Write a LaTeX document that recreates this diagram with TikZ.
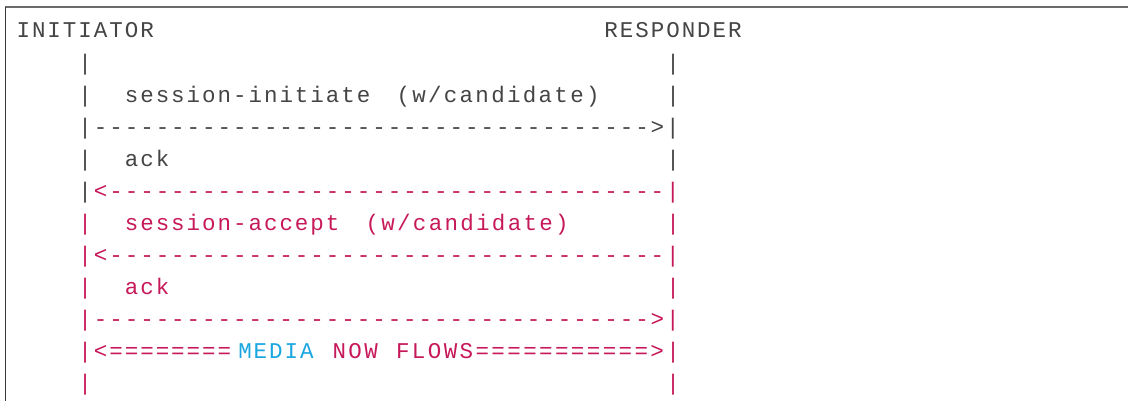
\documentclass[tikz,border=0pt]{standalone}
\usepackage{fontspec}
\newfontfamily\mono{Liberation Mono}
\definecolor{txtgray}{HTML}{454545}
\definecolor{txtred}{HTML}{C7195A}
\definecolor{txtcyan}{HTML}{1AA6E0}
\definecolor{framegray}{HTML}{6B6B6B}
\definecolor{framedark}{HTML}{3A3A3A}
\ExplSyntaxOn
\NewDocumentCommand\cells{O{15.47pt}m}{\str_map_inline:nn {#2} {\makebox[#1][c]{##1}}}
\ExplSyntaxOff
\tikzset{
  txt/.style={inner sep=0pt, outer sep=0pt, anchor=base west, font=\mono\fontsize{22.5}{26}\selectfont},
  gr/.style={txt, text=txtgray},
  rd/.style={txt, text=txtred},
  cy/.style={txt, text=txtcyan},
}
\newcommand\cx[1]{15.57+15.47*#1}
\newcommand\ry[1]{363-32.03*#1}
\begin{document}
\begin{tikzpicture}[x=1pt,y=1pt]
\useasboundingbox (0,0) rectangle (1129,401);
\fill[white] (0,0) rectangle (1129,401);
% frame
\draw[framegray, line width=2pt] (4.5,393.5) -- (1128,393.5);
\draw[framedark, line width=1.4pt] (5.2,394) -- (5.2,0);
% row 0
\node[gr] (init) at ({\cx{0}},{\ry{0}}) {\cells{INITIATOR}};
\node[gr] (resp) at ({\cx{38}},{\ry{0}}) {\cells{RESPONDER}};
% row 1
\node[gr] (l1) at ({\cx{4}},{\ry{1}}) {\cells{|}};
\node[gr] (r1) at ({\cx{42}},{\ry{1}}) {\cells{|}};
% row 2
\node[gr] (l2) at ({\cx{4}},{\ry{2}}) {\cells{|}};
\node[gr] (m2a) at ({\cx{7}},{\ry{2}}) {\cells{session-initiate}};
\node[gr] (m2b) at ({\cx{24.55}},{\ry{2}}) {\cells[15.8pt]{(w/candidate)}};
\node[gr] (r2) at ({\cx{42}},{\ry{2}}) {\cells{|}};
% row 3
\node[gr] (a3) at ({\cx{4}},{\ry{3}}) {\cells{|------------------------------------>|}};
% row 4
\node[gr] (l4) at ({\cx{4}},{\ry{4}}) {\cells{|}};
\node[gr] (m4) at ({\cx{7}},{\ry{4}}) {\cells{ack}};
\node[gr] (r4) at ({\cx{42}},{\ry{4}}) {\cells{|}};
% row 5
\node[gr] (l5) at ({\cx{4}},{\ry{5}}) {\cells{|}};
\node[rd] (a5) at ({\cx{5}},{\ry{5}}) {\cells{<------------------------------------|}};
% row 6
\node[rd] (l6) at ({\cx{4}},{\ry{6}}) {\cells{|}};
\node[rd] (m6a) at ({\cx{7}},{\ry{6}}) {\cells{session-accept}};
\node[rd] (m6b) at ({\cx{22.55}},{\ry{6}}) {\cells[15.8pt]{(w/candidate)}};
\node[rd] (r6) at ({\cx{42}},{\ry{6}}) {\cells{|}};
% row 7
\node[rd] (a7) at ({\cx{4}},{\ry{7}}) {\cells{|<------------------------------------|}};
% row 8
\node[rd] (l8) at ({\cx{4}},{\ry{8}}) {\cells{|}};
\node[rd] (m8) at ({\cx{7}},{\ry{8}}) {\cells{ack}};
\node[rd] (r8) at ({\cx{42}},{\ry{8}}) {\cells{|}};
% row 9
\node[rd] (a9) at ({\cx{4}},{\ry{9}}) {\cells{|------------------------------------>|}};
% row 10
\node[rd] (a10) at ({\cx{4}},{\ry{10}}) {\cells{|<========}};
\node[cy] (media) at (237.3,{\ry{10}}) {\cells{MEDIA}};
\node[rd] (b10) at (331.3,{\ry{10}}) {\cells[15.9pt]{NOW FLOWS===========>|}};
% row 11
\node[rd] (l11) at ({\cx{4}},{\ry{11}}) {\cells{|}};
\node[rd] (r11) at ({\cx{42}},{\ry{11}}) {\cells{|}};
\end{tikzpicture}
\end{document}
